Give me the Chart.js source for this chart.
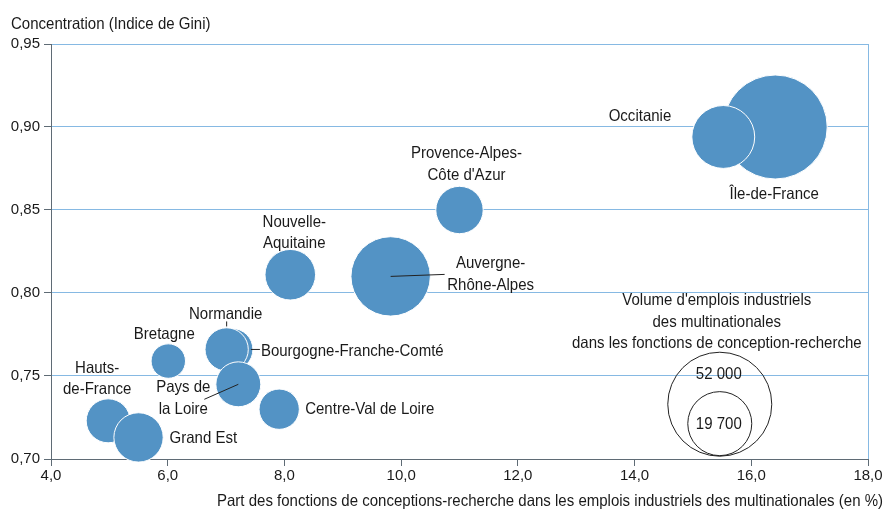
<!DOCTYPE html>
<html><head><meta charset="utf-8">
<script src="https://cdn.jsdelivr.net/npm/chart.js@4/dist/chart.umd.min.js"></script>
<style>html,body{margin:0;padding:0;background:#fff}#wrap{width:887px;height:514px;position:relative}canvas{display:block}</style>
</head><body><div id="wrap"><canvas id="c" width="887" height="514"></canvas></div>
<script>
// ---- data ----
const regions = ["Île-de-France","Occitanie","Provence-Alpes-Côte d'Azur","Auvergne-Rhône-Alpes","Nouvelle-Aquitaine","Bourgogne-Franche-Comté","Normandie","Pays de la Loire","Bretagne","Centre-Val de Loire","Hauts-de-France","Grand Est"];
const partRD = [16.41, 15.52, 11.0, 9.82, 8.1, 7.1, 7.01, 7.21, 6.01, 7.91, 4.98, 5.5];
const gini = [0.900, 0.894, 0.850, 0.810, 0.811, 0.766, 0.766, 0.745, 0.759, 0.730, 0.723, 0.713];
const volumes = [52000, 19000, 10800, 30300, 12300, 8500, 9000, 9700, 5700, 7800, 9300, 11700];
const legendValues = [52000, 19700];
const legendLabels = ["52 000", "19 700"];
const legendX = [15.46, 15.46];
const legendY = [0.733, 0.7213];
const legendTitle = ["Volume d'emplois industriels", "des multinationales", "dans les fonctions de conception-recherche"];
const yTitle = "Concentration (Indice de Gini)";
const xTitle = "Part des fonctions de conceptions-recherche dans les emplois industriels des multinationales (en %)";

// ---- label layout (pixel offsets from bubble centre) ----
const labelLayout = [
  {lines:["Île-de-France"], dx:-1, dy:66, align:"center"},
  {lines:["Occitanie"], dx:-52, dy:-22, align:"right"},
  {lines:["Provence-Alpes-","Côte d'Azur"], dx:7, dy:-58, align:"center"},
  {lines:["Auvergne-","Rhône-Alpes"], dx:100, dy:-14, align:"center", leader:[0,0,54,-2]},
  {lines:["Nouvelle-","Aquitaine"], dx:4, dy:-54, align:"center"},
  {lines:["Bourgogne-Franche-Comté"], dx:29, dy:1, align:"left", leader:[19,0,28,0]},
  {lines:["Normandie"], dx:-1, dy:-36, align:"center", leader:[0,-28,0,-23]},
  {lines:["Pays de","la Loire"], dx:-55, dy:2, align:"center", leader:[0,0,-34,15]},
  {lines:["Bretagne"], dx:-4, dy:-28, align:"center"},
  {lines:["Centre-Val de Loire"], dx:26, dy:-1, align:"left"},
  {lines:["Hauts-","de-France"], dx:-11, dy:-54, align:"center"},
  {lines:["Grand Est"], dx:31, dy:0, align:"left"}
];

const RMAX = 52, VMAX = 52000;
const rad = v => RMAX * Math.sqrt(v / VMAX);
const AXIS = '#5f6b75', GRID = '#86b9e3', BLUE = '#5393c5', TXT = '#1a1a1a';
const FONT = '"Liberation Sans", Arial, sans-serif';
const SQUEEZE = 0.91, YSHIFT = 1.5;
Chart.defaults.font.family = FONT;
Chart.defaults.font.size = 15;
Chart.defaults.color = TXT;

function drawText(ctx, t, px, py, align) {
  ctx.save();
  ctx.translate(px, py + YSHIFT);
  ctx.scale(SQUEEZE, 1);
  ctx.textAlign = align;
  ctx.fillText(t, 0, 0);
  ctx.restore();
}

const textPlugin = {
  id: 'texts',
  afterDraw(chart) {
    const {ctx, chartArea: a, scales: {x, y}} = chart;
    ctx.save();
    // right border
    ctx.strokeStyle = GRID; ctx.lineWidth = 1;
    ctx.beginPath(); ctx.moveTo(a.right + 0.5, a.top); ctx.lineTo(a.right + 0.5, a.bottom); ctx.stroke();
    ctx.font = '16.5px ' + FONT; ctx.fillStyle = TXT; ctx.textBaseline = 'middle';
    // region labels
    regions.forEach((r, i) => {
      const L = labelLayout[i];
      const cx = x.getPixelForValue(partRD[i]), cy = y.getPixelForValue(gini[i]);
      L.lines.forEach((t, k) => drawText(ctx, t, cx + L.dx, cy + L.dy + k * 21.5, L.align));
      if (L.leader) {
        ctx.strokeStyle = '#222'; ctx.lineWidth = 1;
        ctx.beginPath();
        ctx.moveTo(cx + L.leader[0], cy + L.leader[1]);
        ctx.lineTo(cx + L.leader[2], cy + L.leader[3]);
        ctx.stroke();
      }
    });
    // legend
    const lx = x.getPixelForValue(legendX[0]), ly = y.getPixelForValue(legendY[0]);
    legendTitle.forEach((t, k) => drawText(ctx, t, lx - 3, ly - 105 + k * 21.3, 'center'));
    legendLabels.forEach((t, k) => {
      const px = x.getPixelForValue(legendX[k]), py = y.getPixelForValue(legendY[k]);
      drawText(ctx, t, px - 1, py + (k === 0 ? -31 : -1), 'center');
    });
    // axis titles
    ctx.textBaseline = 'alphabetic';
    drawText(ctx, yTitle, 11, 27, 'left');
    ctx.textBaseline = 'middle';
    drawText(ctx, xTitle, 883, 500, 'right');
    ctx.restore();
  }
};

new Chart(document.getElementById('c'), {
  type: 'bubble',
  data: {
    datasets: [
      {
        data: partRD.map((v, i) => ({x: v, y: gini[i], r: rad(volumes[i])})),
        backgroundColor: BLUE, borderColor: '#ffffff', borderWidth: 1, clip: false
      },
      {
        data: legendX.map((v, i) => ({x: v, y: legendY[i], r: rad(legendValues[i])})),
        backgroundColor: 'rgba(0,0,0,0)', borderColor: '#222222', borderWidth: 1, clip: false
      }
    ]
  },
  options: {
    responsive: false,
    animation: false,
    events: [],
    layout: {autoPadding: false, padding: {top: 44, right: 19, left: 0, bottom: 0}},
    plugins: {legend: {display: false}, tooltip: {enabled: false}},
    scales: {
      x: {
        type: 'linear', min: 4, max: 18,
        ticks: {stepSize: 2, padding: 1, color: TXT, font: {size: 15}, maxRotation: 0, callback: v => v.toFixed(1).replace('.', ',')},
        grid: {drawOnChartArea: false, drawTicks: true, tickLength: 7, tickColor: AXIS},
        border: {color: AXIS, width: 1},
        afterFit: s => { s.height = 55; s.paddingLeft = 0; s.paddingRight = 0; }
      },
      y: {
        type: 'linear', min: 0.70, max: 0.95,
        ticks: {stepSize: 0.05, padding: 4, color: TXT, font: {size: 15}, callback: v => v.toFixed(2).replace('.', ',')},
        grid: {color: GRID, lineWidth: 1, drawTicks: true, tickLength: 7, tickColor: AXIS},
        border: {color: AXIS, width: 1},
        afterFit: s => { s.width = 51; s.paddingTop = 0; s.paddingBottom = 0; }
      }
    }
  },
  plugins: [textPlugin]
});
</script>
</body></html>
